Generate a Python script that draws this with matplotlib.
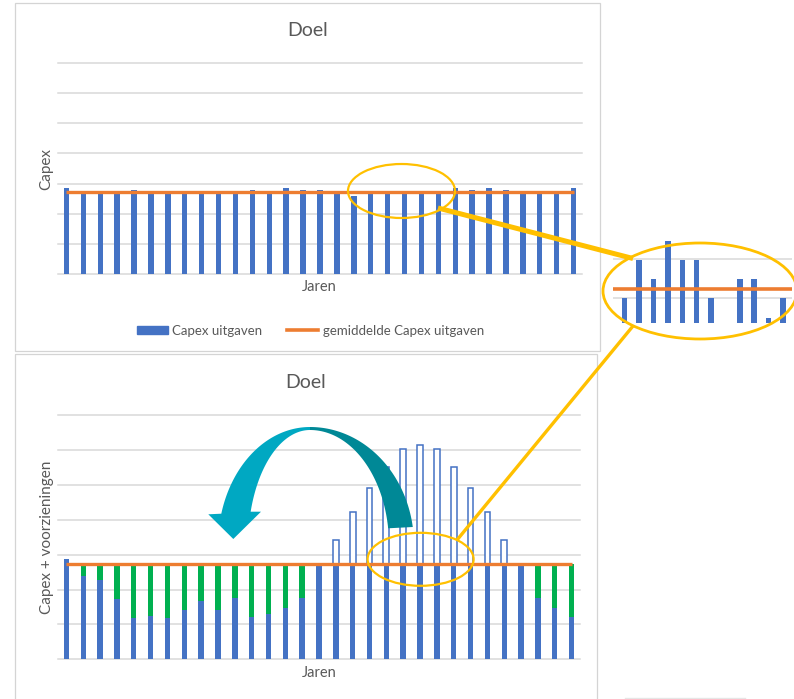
import numpy as np
import matplotlib

matplotlib.use("Agg")
import matplotlib.pyplot as plt  # noqa: E402
from matplotlib.lines import Line2D  # noqa: E402
from matplotlib.patches import Ellipse, Polygon, Rectangle  # noqa: E402

W, H = 794, 699
BLUE, ORANGE, GREEN, GOLD = "#4472C4", "#ED7D31", "#00B050", "#FFC000"
GRID, TEXT, BORDER = "#D9D9D9", "#595959", "#D4D4D4"
TEAL_LIGHT, TEAL_DARK = "#00A8C2", "#008896"

plt.rcParams["font.family"] = ["Lato", "DejaVu Sans"]

# --- data (grid units, 0..7) ---
years = np.arange(31)
capex_top = [2.84, 2.72, 2.72, 2.72, 2.78, 2.72, 2.72, 2.72, 2.72, 2.72, 2.72,
             2.78, 2.72, 2.84, 2.78, 2.78, 2.72, 2.58, 2.72, 2.72, 2.72, 2.72,
             2.72, 2.84, 2.78, 2.84, 2.78, 2.72, 2.72, 2.72, 2.84]
mean_top = 2.71

capex_low = [2.87, 2.39, 2.27, 1.73, 1.19, 1.23, 1.19, 1.41, 1.66, 1.41, 1.77,
             1.22, 1.30, 1.48, 1.77, 2.72, 2.72, 2.72, 2.72, 2.72, 2.72, 2.72,
             2.72, 2.72, 2.72, 2.72, 2.72, 2.72, 1.77, 1.48, 1.22]
mean_low = 2.72
# peak years: total needed (outline bars above the average line)
peak_top = [np.nan] * 16 + [3.42, 4.23, 4.92, 5.52, 6.02, 6.14, 6.02, 5.52,
                            4.92, 4.23, 3.42] + [np.nan] * 4

# magnified detail (inset)
inset_pos = np.arange(12)
inset_vals = [1.0, 1.98, 1.49, 2.48, 1.98, 1.98, 1.0, np.nan, 1.49, 1.49, 0.48, 1.0]
inset_mean = 1.23

fig = plt.figure(figsize=(W / 100, H / 100), dpi=100)


def px_axes(x0, y0, x1, y1, **kw):
    return fig.add_axes([x0 / W, 1 - y1 / H, (x1 - x0) / W, (y1 - y0) / H], **kw)


def chart(ax, n_grid=7):
    ax.set_xlim(-0.5, 30.5)
    ax.set_ylim(0, n_grid)
    ax.axis("off")
    for g in range(n_grid + 1):
        ax.axhline(g, color=GRID, lw=1.1, zorder=0, clip_on=False)


# top chart
ax1 = px_axes(58, 63.3, 582, 273.7)
chart(ax1)
ax1.bar(years, capex_top, width=0.32, color=BLUE, zorder=2)
ax1.plot(years, np.full(len(years), mean_top), color=ORANGE, lw=2.4, zorder=3,
         solid_capstyle="butt")
ax1.legend(handles=[Rectangle((0, 0), 1, 1, color=BLUE),
                    Line2D([], [], color=ORANGE, lw=2.6)],
           labels=["Capex uitgaven", "gemiddelde Capex uitgaven"],
           ncol=2, loc="center", bbox_to_anchor=(310.5 / W, 1 - 330.7 / H),
           bbox_transform=fig.transFigure, frameon=False, fontsize=9.5,
           labelcolor=TEXT, handlelength=2.35, handleheight=0.5,
           handletextpad=0.35, columnspacing=1.9)

# bottom chart
ax2 = px_axes(58, 415, 580, 659.3)
chart(ax2)
low = np.array(capex_low)
fill = np.clip(mean_low - low, 0, None)
peak = np.array(peak_top)
ax2.bar(years, low, width=0.32, color=BLUE, zorder=2)
ax2.bar(years, fill, bottom=low, width=0.32, color=GREEN, zorder=2)
ax2.bar(years, peak - mean_low, bottom=mean_low, width=0.34, facecolor="white",
        edgecolor=BLUE, lw=1.1, zorder=2)
ax2.plot(years, np.full(len(years), mean_low), color=ORANGE, lw=2.4, zorder=3,
         solid_capstyle="butt")

# inset detail
ax3 = px_axes(612.7, 236.3, 791.5, 322.7)
ax3.set_xlim(-0.834, 11.59)
ax3.set_ylim(0.349, 2.6)
ax3.axis("off")
for g in (1, 2):
    ax3.axhline(g, color=GRID, lw=1.1, zorder=0)
ax3.bar(inset_pos, inset_vals, width=0.38, color=BLUE, zorder=2)
ax3.axhline(inset_mean, color=ORANGE, lw=2.6, zorder=3)

# overlay in pixel coordinates
ov = fig.add_axes([0, 0, 1, 1], zorder=10)
ov.set_xlim(0, W)
ov.set_ylim(H, 0)
ov.axis("off")
ov.patch.set_alpha(0)

ov.add_patch(Rectangle((14.5, 3), 585.5, 348, fill=False, ec=BORDER, lw=0.9))
ov.add_patch(Rectangle((14.5, 354), 582.5, 352, fill=False, ec=BORDER, lw=0.9))
ov.plot([625, 745], [698, 698], color="#E6E6E6", lw=1)

for title_y, tx in ((30, 308), (382, 306)):
    ov.text(tx, title_y, "Doel", ha="center", va="center", fontsize=14, color=TEXT)
for ly in (286.7, 672.7):
    ov.text(319, ly, "Jaren", ha="center", va="center", fontsize=10.5, color=TEXT)
ov.text(46.7, 169, "Capex", rotation=90, ha="center", va="center",
        fontsize=11, color=TEXT)
ov.text(46.7, 537.7, "Capex + voorzieningen", rotation=90, ha="center",
        va="center", fontsize=11, color=TEXT)

# highlight ellipses and connectors
ov.add_patch(Ellipse((401.5, 191), 107, 54, fill=False, ec=GOLD, lw=1.6))
ov.add_patch(Ellipse((420.6, 559.3), 106, 53, fill=False, ec=GOLD, lw=1.6))
ov.add_patch(Ellipse((700, 291), 194, 96, fill=False, ec=GOLD, lw=2.0))
ov.plot([438, 633], [208, 258.5], color=GOLD, lw=3.6, solid_capstyle="butt")
ov.plot([457, 633], [540, 326], color=GOLD, lw=2.4, solid_capstyle="butt")

# curved arrow (two faces: light front, dark back), pixel coordinates
cx, cy = 310, 545


def arc(rx, ry, t0, t1, n=60):
    t = np.linspace(t0, t1, n)
    return np.column_stack([cx + rx * np.cos(t), cy - ry * np.sin(t)])


left_out = arc(92, 118, np.pi / 2, np.pi - np.arcsin(31.3 / 118))
left_in = arc(62, 115, np.pi - np.arcsin(33.3 / 115), np.pi / 2)
head = np.array([[208.3, 514.3], [233.3, 539], [261, 511.7]])
ov.add_patch(Polygon(np.vstack([left_out, head, left_in]), closed=True,
                     fc=TEAL_LIGHT, ec="none", zorder=5))
right_out = arc(104, 118, np.pi / 2, np.arcsin(18 / 118))
right_in = arc(79, 115, np.arcsin(16.7 / 115), np.pi / 2)
ov.add_patch(Polygon(np.vstack([right_out, right_in]), closed=True,
                     fc=TEAL_DARK, ec="none", zorder=4))

fig.savefig("out.png", dpi=100, facecolor="white")
